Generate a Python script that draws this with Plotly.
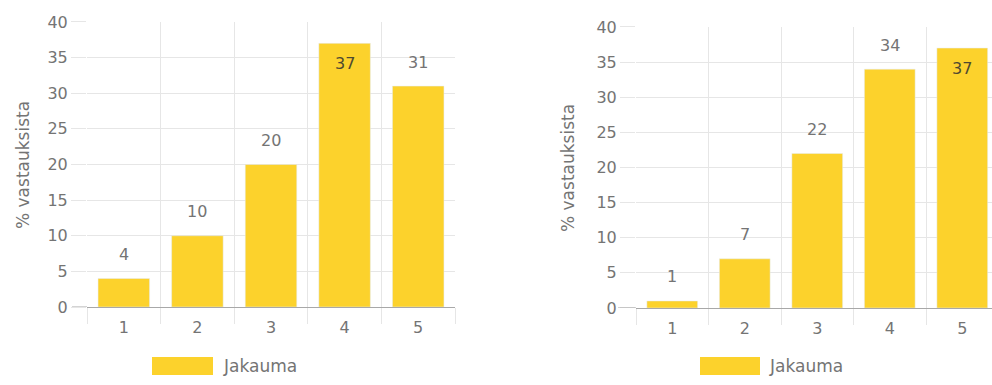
import plotly.graph_objects as go

categories = ["1", "2", "3", "4", "5"]
left_values = [4, 10, 20, 37, 31]
right_values = [1, 7, 22, 34, 37]
y_ticks = [0, 5, 10, 15, 20, 25, 30, 35, 40]
series_name = "Jakauma"
y_title = "% vastauksista"

BAR = "#FCD22C"
TXT = "#747474"
GRID = "#e6e6e6"
AXIS = "#a8a8a8"
FONT = "DejaVu Sans"

fig = go.Figure()
fig.add_trace(go.Bar(x=categories, y=left_values, marker_color=BAR, width=0.7,
                     xaxis="x", yaxis="y", showlegend=False, hoverinfo="skip"))
fig.add_trace(go.Bar(x=categories, y=right_values, marker_color=BAR, width=0.7,
                     xaxis="x2", yaxis="y2", showlegend=False, hoverinfo="skip"))

annotations = []
for xref, yref, vals in (("x", "y", left_values), ("x2", "y2", right_values)):
    for i, v in enumerate(vals):
        inside = v > 35
        annotations.append(dict(
            x=i, y=v, xref=xref, yref=yref, text=str(v), showarrow=False,
            yshift=-20 if inside else 24,
            font=dict(family=FONT, size=16, color="#4f4a30" if inside else TXT)))

# axis titles
for xc, yc in ((23, 165), (568, 168)):
    annotations.append(dict(xref="paper", yref="paper", x=xc/992, y=(385-yc)/385,
                            text=y_title, textangle=-90, showarrow=False,
                            xanchor="center", yanchor="middle",
                            font=dict(family=FONT, size=17, color=TXT)))

xcommon = dict(type="category", tickson="boundaries", showgrid=True, gridcolor=GRID,
               ticks="outside", ticklen=16, tickcolor=GRID, showline=True,
               linecolor=AXIS, linewidth=1, automargin=False, ticklabelstandoff=6,
               tickfont=dict(family=FONT, size=16, color=TXT), fixedrange=True)
ycommon = dict(range=[0, 40], tickvals=y_ticks, showgrid=True, gridcolor=GRID,
               ticks="outside", ticklen=15, tickcolor=GRID, zeroline=False,
               showline=False, automargin=False, ticklabelstandoff=0,
               tickfont=dict(family=FONT, size=16, color=TXT))

fig.update_layout(
    width=992, height=385, margin=dict(l=0, r=0, t=0, b=0, autoexpand=False),
    paper_bgcolor="white", plot_bgcolor="white", bargap=0.3,
    xaxis=dict(xcommon, domain=[87/992, 455/992], range=[-0.5, 4.5], anchor="y"),
    yaxis=dict(ycommon, domain=[0.2026, 0.9429], anchor="x"),
    xaxis2=dict(xcommon, domain=[636/992, 1.0], range=[-0.5, 4.41], anchor="y2"),
    yaxis2=dict(ycommon, domain=[0.2, 0.9299], anchor="x2"),
    showlegend=False,
    annotations=annotations,
)

# darker zero line stub left of the plot areas
for x0, x1, yref in ((72, 87, "y"), (618, 636, "y2")):
    fig.add_shape(type="line", xref="paper", yref=yref, x0=x0/992, x1=x1/992,
                  y0=0, y1=0, line=dict(color=AXIS, width=1))

# custom legends
for x0, x1, tx in ((152, 213, 221), (700, 760, 767)):
    fig.add_shape(type="rect", xref="paper", yref="paper",
                  x0=x0/992, x1=x1/992, y0=(385-375)/385, y1=(385-357)/385,
                  fillcolor=BAR, line_width=0)
    fig.add_annotation(xref="paper", yref="paper", x=tx/992, y=(385-366)/385,
                       xanchor="left", yanchor="middle", showarrow=False,
                       text=series_name, font=dict(family=FONT, size=17, color=TXT))

fig.write_html("out.html")
